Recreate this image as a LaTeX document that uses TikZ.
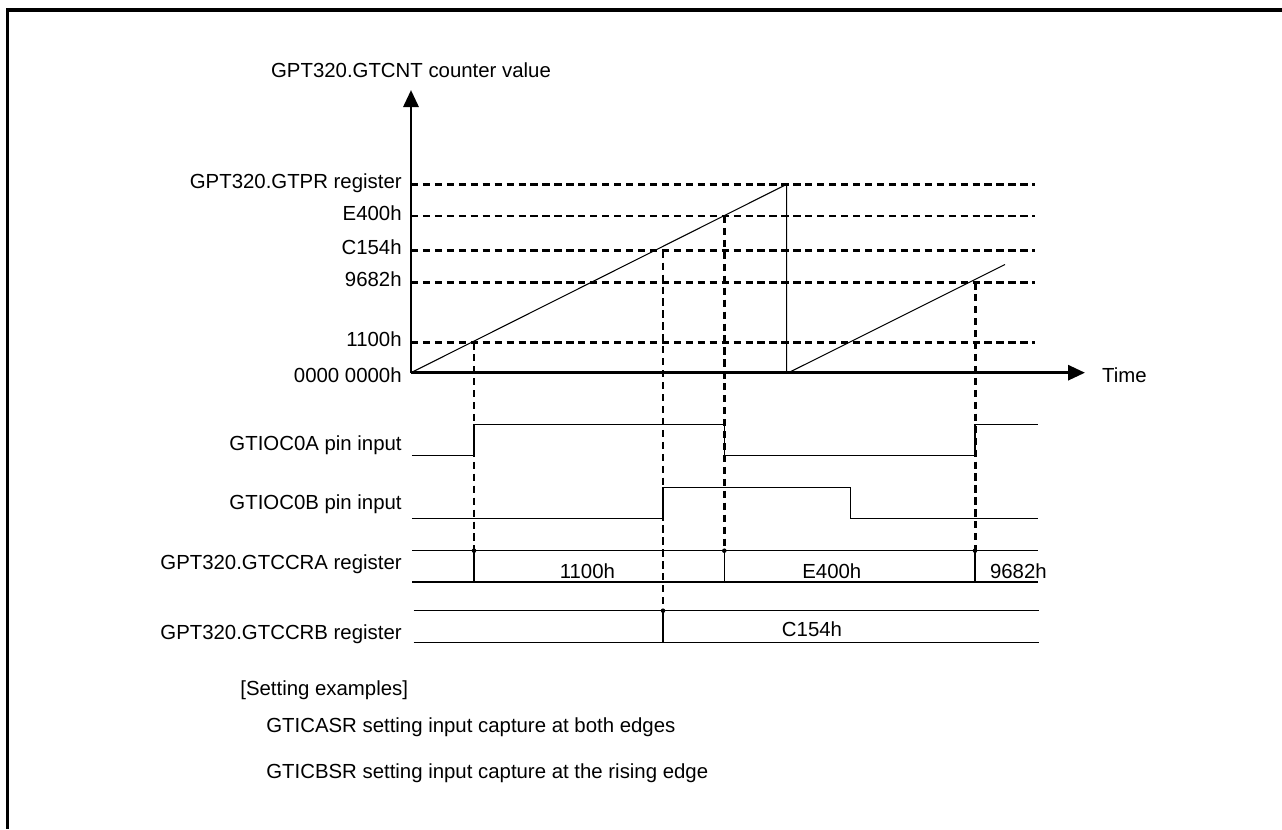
\documentclass[tikz,border=0pt]{standalone}
\usepackage{fontspec}
\setmainfont{Liberation Sans}
\usepackage{xcolor}
\usepackage{tikz}
\usetikzlibrary{
  arrows.meta,
  positioning,
  calc
}
\definecolor{InkBlack}{HTML}{000000}
\tikzset{
  frame/.style={
    draw=InkBlack,
    line width=1.9pt
  },
  axis/.style={
    draw=InkBlack,
    line width=1.7pt,
    -{Triangle[length=0.34cm,width=0.3cm]}
  },
  level/.style={
    draw=InkBlack,
    line width=1.7pt,
    dash pattern=on 4.1pt off 2.7pt
  },
  capture/.style={
    level
  },
  wave/.style={
    draw=InkBlack,
    line width=0.6pt
  },
  levellabel/.style={
    anchor=base east,
    inner sep=0pt
  },
  rowlabel/.style={
    anchor=base east,
    inner sep=0pt
  },
  valuelabel/.style={
    anchor=base,
    inner sep=0pt
  },
  notelabel/.style={
    anchor=base west,
    inner sep=0pt
  },
  capdot/.style={
    fill=InkBlack
  }
}
\begin{document}
\begin{tikzpicture}[
  x=0.02cm,
  y=-0.02cm,
  font=\fontsize{11.6pt}{14pt}\selectfont
]

  \useasboundingbox (0,0) rectangle (1282,829);

  \coordinate (frametr) at (1282,10);
  \coordinate (frametl) at (7.7,10);
  \coordinate (framebl) at (7.7,829);

  \draw[frame]
  (frametr) --
  (frametl) --
  (framebl);

  \coordinate (origin) at (411,372.7);
  \coordinate (ytip) at (411,90);
  \coordinate (xtip) at (1085,372.7);

  \draw[axis]
  (origin) --
  (ytip);

  \draw[axis]
  (origin) --
  (xtip);

  \node[
    valuelabel
  ] (counterlabel) at (411,77) {
    GPT320.GTCNT counter value
  };

  \node[
    notelabel
  ] (timelabel) at (1101.7,382) {
    Time
  };

  \node[
    levellabel
  ] (gtprlabel) at (402,188.3) {
    GPT320.GTPR register
  };

  \node[
    levellabel
  ] (e400label) at (402,220) {
    E400h
  };

  \node[
    levellabel
  ] (c154label) at (402,254.7) {
    C154h
  };

  \node[
    levellabel
  ] (n9682label) at (402,286.3) {
    9682h
  };

  \node[
    levellabel
  ] (n1100label) at (402,346.3) {
    1100h
  };

  \node[
    levellabel
  ] (zerolabel) at (402,382) {
    0000 0000h
  };

  \draw[level]
  (411,184.3) --
  (1035,184.3);

  \draw[level]
  (411,216) --
  (1035,216);

  \draw[level]
  (411,250.7) --
  (1035,250.7);

  \draw[level]
  (411,282.3) --
  (1035,282.3);

  \draw[level]
  (411,342.3) --
  (1035,342.3);

  \coordinate (peak) at (786.7,184.3);
  \coordinate (drop) at (786.7,372.7);
  \coordinate (restart) at (788.5,372.7);
  \coordinate (rampend) at (1005,264.5);

  \draw[wave]
  (origin) --
  (peak) --
  (drop);

  \draw[wave]
  (restart) --
  (rampend);

  \node[
    rowlabel
  ] (pinalabel) at (402,450.3) {
    GTIOC0A pin input
  };

  \node[
    rowlabel
  ] (pinblabel) at (402,509) {
    GTIOC0B pin input
  };

  \node[
    rowlabel
  ] (ccralabel) at (402,569) {
    GPT320.GTCCRA register
  };

  \node[
    rowlabel
  ] (ccrblabel) at (402,639.3) {
    GPT320.GTCCRB register
  };

  \draw[wave]
  (411.8,455.7) --
  (474,455.7) --
  (474,424.3) --
  (724.3,424.3) --
  (724.3,455.7) --
  (975,455.7) --
  (975,424.3) --
  (1038,424.3);

  \draw[wave]
  (411.8,518.7) --
  (663,518.7) --
  (663,487.3) --
  (850.3,487.3) --
  (850.3,518.7) --
  (1038,518.7);

  \draw[wave]
  (412,550.7) --
  (1038,550.7);

  \draw[wave]
  (412,582) --
  (1038,582);

  \draw[wave]
  (474,550.7) --
  (474,582);

  \draw[wave]
  (724.3,550.7) --
  (724.3,582);

  \draw[wave]
  (975,550.7) --
  (975,582);

  \draw[wave]
  (413.5,610.7) --
  (1039,610.7);

  \draw[wave]
  (413.5,642.3) --
  (1039,642.3);

  \draw[wave]
  (663,610.7) --
  (663,642.3);

  \coordinate (cap1100top) at (474,342.3);
  \coordinate (cap1100bot) at (474,550.7);
  \coordinate (capc154top) at (663,250.7);
  \coordinate (capc154bot) at (663,610.7);
  \coordinate (cape400top) at (724.3,216);
  \coordinate (cape400bot) at (724.3,550.7);
  \coordinate (cap9682top) at (975,282.3);
  \coordinate (cap9682bot) at (975,550.7);

  \draw[capture]
  (cap1100top) --
  (cap1100bot);

  \draw[capture]
  (capc154top) --
  (capc154bot);

  \draw[capture]
  (cape400top) --
  (cape400bot);

  \draw[capture]
  (cap9682top) --
  (cap9682bot);

  \fill[capdot] (cap1100bot) circle[radius=1.3pt];
  \fill[capdot] (capc154bot) circle[radius=1.3pt];
  \fill[capdot] (cape400bot) circle[radius=1.3pt];
  \fill[capdot] (cap9682bot) circle[radius=1.3pt];

  \node[
    valuelabel
  ] (ccra1100) at (587.4,578) {
    1100h
  };

  \node[
    valuelabel
  ] (ccrae400) at (831.8,578) {
    E400h
  };

  \node[
    valuelabel
  ] (ccra9682) at (1018.4,578) {
    9682h
  };

  \node[
    valuelabel
  ] (ccrbc154) at (812,636) {
    C154h
  };

  \node[
    notelabel
  ] (settingtitle) at (240,695.5) {
    [Setting examples]
  };

  \node[
    notelabel
  ] (gticasrnote) at (266,732.5) {
    GTICASR setting input capture at both edges
  };

  \node[
    notelabel
  ] (gticbsrnote) at (266,778) {
    GTICBSR setting input capture at the rising edge
  };

\end{tikzpicture}
\end{document}
